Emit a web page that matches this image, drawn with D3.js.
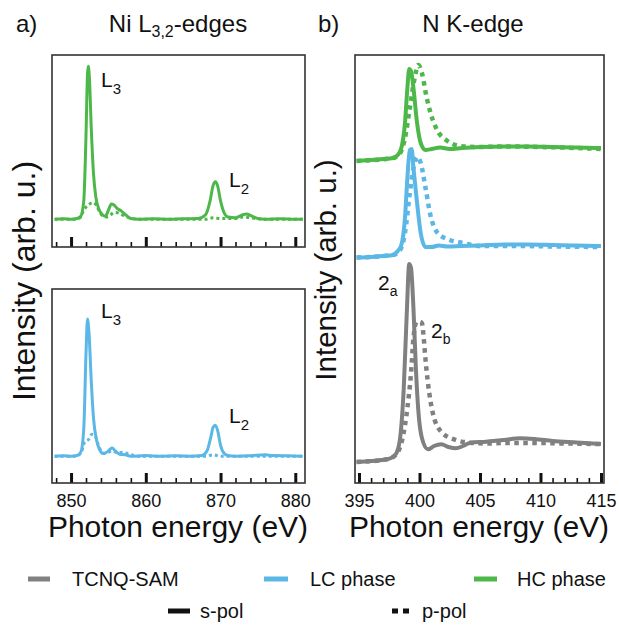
<!DOCTYPE html>
<html><head><meta charset="utf-8">
<script src="https://cdn.jsdelivr.net/npm/d3@7"></script>
<style>body{margin:0;background:#fff}svg{display:block}text{font-family:"Liberation Sans",Arial,sans-serif;fill:#111}</style>
</head><body><svg id="c" width="619" height="627"></svg>
<script>
// ---------- DATA ----------
// Panel a: Ni L3,2-edges (normalised intensity, baseline 0, L3 peak 1)
const hcNiE_s = [847.8,849,850,850.8,851.3,851.7,852.0,852.2,852.3,852.45,852.7,853.0,853.3,853.7,854.2,854.6,855.0,855.4,855.7,856.2,856.7,857.3,858,859,861,863,865,867,868,868.6,869.0,869.3,869.6,870.0,870.5,871,872,873,873.5,874,875,876,878,880,881];
const hcNiI_s = [0,0.003,0,0.005,0.02,0.12,0.55,0.95,1.0,0.93,0.6,0.3,0.15,0.07,0.03,0.02,0.06,0.10,0.095,0.07,0.055,0.03,0.005,0,0.003,0,0.003,0.005,0.03,0.12,0.22,0.245,0.22,0.12,0.04,0.015,0.01,0.03,0.035,0.025,0.005,0,0.003,0,0];
const hcNiE_p = [847.8,850,850.5,851.2,851.6,852.0,852.5,853.0,853.4,853.8,854.3,854.8,855.3,855.8,856.4,857,857.8,859,862,866,868,869,870,872,873,874,876,878,881];
const hcNiI_p = [0,0,0,0.01,0.05,0.08,0.10,0.11,0.09,0.05,0.02,0.015,0.03,0.045,0.04,0.025,0.01,0,0,0,0,0.01,0.005,0.005,0.015,0.01,0,0,0];
const lcNiE_s = [847.8,849,850,850.8,851.3,851.7,852.0,852.2,852.4,852.7,853.0,853.4,853.8,854.3,854.8,855.2,855.5,855.9,856.5,857.3,858,860,862,864,866,867.5,868.2,868.7,869.0,869.3,869.6,870.0,870.5,871,872,874,876,877,879,881];
const lcNiI_s = [0,0.003,0,0.005,0.03,0.2,0.75,1.0,0.9,0.55,0.28,0.12,0.05,0.02,0.03,0.05,0.06,0.04,0.015,0.01,0,0.005,0,0.004,0,0.005,0.04,0.14,0.21,0.226,0.19,0.08,0.02,0.005,0,0.004,0.01,0.005,0.004,0];
const lcNiE_p = [847.8,850.5,851.3,851.8,852.3,852.8,853.2,853.6,854.0,854.5,855,855.5,856.2,857,857.5,858.5,859,864,868,869,870,875,881];
const lcNiI_p = [0,0,0.02,0.10,0.12,0.16,0.15,0.09,0.04,0.02,0.03,0.04,0.025,0.03,0.02,0.005,0,0,0,0.01,0,0,0];

// Panel b: N K-edge (stacked, offsets included as plotted)
const hcNE_s = [394.8,396,397,397.8,398.2,398.5,398.8,399.0,399.15,399.3,399.5,399.8,400.1,400.5,401.0,401.7,402.5,403.5,405,407,409,411,413,415];
const hcNI_s = [3.22,3.23,3.24,3.25,3.28,3.35,3.6,3.95,4.14,4.12,3.95,3.6,3.4,3.33,3.34,3.355,3.34,3.35,3.36,3.365,3.365,3.36,3.355,3.35];
const hcNE_p = [394.8,397.8,398.4,398.8,399.2,399.6,399.9,400.2,400.6,401.1,401.6,402.2,403.3,405,407,410,413,415];
const hcNI_p = [3.22,3.25,3.3,3.45,3.75,4.05,4.18,4.1,3.85,3.63,3.5,3.43,3.37,3.36,3.365,3.36,3.35,3.34];
const lcNE_s = [394.8,396,397,397.8,398.2,398.5,398.8,399.0,399.2,399.35,399.5,399.8,400.1,400.5,401.0,401.6,402.3,403.5,405,407,409,411,413,415];
const lcNI_s = [2.255,2.26,2.27,2.28,2.32,2.38,2.65,3.05,3.33,3.34,3.15,2.8,2.5,2.36,2.36,2.375,2.365,2.37,2.375,2.385,2.385,2.38,2.375,2.37];
const lcNE_p = [394.8,397.8,398.4,398.8,399.2,399.5,399.8,400.1,400.5,400.9,401.5,402.5,403.6,405,408,411,415];
const lcNI_p = [2.255,2.28,2.33,2.5,2.9,3.15,3.26,3.2,2.95,2.68,2.5,2.43,2.4,2.37,2.37,2.365,2.36];
const samNE_s = [394.8,396,397.3,397.8,398.1,398.4,398.7,398.95,399.15,399.3,399.5,399.7,399.9,400.2,400.7,401.2,401.8,402.4,403.0,403.6,404.2,405.5,407,408.3,409.5,411,413,415];
const samNI_s = [0.21,0.22,0.237,0.26,0.30,0.45,0.95,1.7,2.19,2.15,1.75,1.15,0.73,0.45,0.337,0.37,0.387,0.36,0.347,0.37,0.403,0.413,0.43,0.447,0.44,0.42,0.405,0.39];
const samNE_p = [394.8,397.3,398.1,398.6,399.0,399.3,399.5,399.65,399.8,400.0,400.2,400.35,400.5,400.7,401.1,401.8,403.0,404.2,405.5,407,408.3,410,412,415];
const samNI_p = [0.21,0.237,0.29,0.45,0.75,1.1,1.45,1.58,1.613,1.613,1.6,1.45,1.23,1.0,0.70,0.513,0.43,0.403,0.395,0.40,0.40,0.40,0.395,0.39];

// Axes ticks
const niMajor = [850,860,870,880];
const niMinor = [848,852,854,856,858,862,864,866,868,872,874,876,878];
const nMajor = [395,400,405,410,415];
const nMinor = [396,397,398,399,401,402,403,404,406,407,408,409,411,412,413,414];

// Legend
const legendNames = ["TCNQ-SAM","LC phase","HC phase"];
const polNames = ["s-pol","p-pol"];

// ---------- STYLE ----------
const C_SAM = "#808080", C_LC = "#5bb7e6", C_HC = "#4db849";
const svg = d3.select("#c");
const zip = (a,b)=>a.map((v,i)=>[v,b[i]]);

function panel(box, xDom, yDom, series, major, minor, showLabels, lw, dash){
  const x = d3.scaleLinear().domain(xDom).range([box.x0, box.x1]);
  const y = d3.scaleLinear().domain(yDom).range([box.y1, box.y0]);
  const id = "clip"+Math.round(box.x0)+"_"+Math.round(box.y0);
  svg.append("clipPath").attr("id",id).append("rect")
    .attr("x",box.x0).attr("y",box.y0).attr("width",box.x1-box.x0).attr("height",box.y1-box.y0);
  const g = svg.append("g").attr("clip-path",`url(#${id})`);
  const line = d3.line().x(d=>x(d[0])).y(d=>y(d[1])).curve(d3.curveMonotoneX);
  series.forEach(s=>{
    g.append("path").attr("d",line(s.data)).attr("fill","none")
      .attr("stroke",s.color).attr("stroke-width",s.dotted?dash.w:lw)
      .attr("stroke-dasharray",s.dotted?dash.a:null)
      .attr("stroke-linejoin","round");
  });
  const axMin = d3.axisBottom(x).tickValues(minor).tickSize(-5).tickFormat("");
  const axMaj = d3.axisBottom(x).tickValues(major).tickSize(-10).tickPadding(11);
  if(!showLabels) axMaj.tickFormat("");
  const gm = svg.append("g").attr("transform",`translate(0,${box.y1})`).call(axMin);
  gm.select(".domain").remove();
  gm.selectAll(".tick line").attr("stroke","#111").attr("stroke-width",1.6);
  const gM = svg.append("g").attr("transform",`translate(0,${box.y1})`).call(axMaj);
  gM.select(".domain").remove();
  gM.selectAll(".tick line").attr("stroke","#111").attr("stroke-width",3);
  gM.selectAll(".tick text").attr("font-size",18).attr("fill","#222")
    .attr("font-family","Liberation Sans, Arial, sans-serif");
  svg.append("rect").attr("x",box.x0).attr("y",box.y0).attr("width",box.x1-box.x0).attr("height",box.y1-box.y0)
    .attr("fill","none").attr("stroke","#333").attr("stroke-width",1.6);
  return {x,y};
}

const boxATop = {x0:52,x1:305,y0:55,y1:247};
const boxABot = {x0:52,x1:305,y0:289,y1:483};
const boxB = {x0:355,x1:604,y0:55,y1:483};
const niDom = [847.45,881.3], nDom = [394.67,415.25];

panel(boxATop, niDom, [-0.181,1.074], [
  {data:zip(hcNiE_p,hcNiI_p),color:C_HC,dotted:true},
  {data:zip(hcNiE_s,hcNiI_s),color:C_HC}
], niMajor, niMinor, false, 3, {w:3,a:"3,3"});
panel(boxABot, niDom, [-0.195,1.219], [
  {data:zip(lcNiE_p,lcNiI_p),color:C_LC,dotted:true},
  {data:zip(lcNiE_s,lcNiI_s),color:C_LC}
], niMajor, niMinor, true, 3, {w:3,a:"3,3"});
panel(boxB, nDom, [0,4.28], [
  {data:zip(hcNE_p,hcNI_p),color:C_HC,dotted:true},
  {data:zip(hcNE_s,hcNI_s),color:C_HC},
  {data:zip(lcNE_p,lcNI_p),color:C_LC,dotted:true},
  {data:zip(lcNE_s,lcNI_s),color:C_LC},
  {data:zip(samNE_p,samNI_p),color:C_SAM,dotted:true},
  {data:zip(samNE_s,samNI_s),color:C_SAM}
], nMajor, nMinor, true, 4, {w:4.5,a:"4.5,4.5"});

// ---------- TEXT ----------
function sub(x,y,main,s,fs,sfs,dy){
  const t = svg.append("text").attr("x",x).attr("y",y).attr("font-size",fs);
  t.append("tspan").text(main);
  t.append("tspan").attr("font-size",sfs).attr("dy",dy).text(s);
  return t;
}
svg.append("text").attr("x",16).attr("y",32).attr("font-size",24).text("a)");
svg.append("text").attr("x",318).attr("y",32).attr("font-size",24).text("b)");
{
  const t = svg.append("text").attr("x",178).attr("y",32).attr("font-size",24).attr("text-anchor","middle");
  t.append("tspan").text("Ni L");
  t.append("tspan").attr("font-size",16).attr("dy",5).text("3,2");
  t.append("tspan").attr("dy",-5).text("-edges");
}
svg.append("text").attr("x",473).attr("y",32).attr("font-size",24).attr("text-anchor","middle").text("N K-edge");

sub(101,87,"L","3",21,15,7);
sub(229,187,"L","2",21,15,7);
sub(101,318,"L","3",21,15,7);
sub(229,423,"L","2",21,15,7);
sub(378,290,"2","a",21,14,6);
sub(431,338,"2","b",21,14,6);

svg.append("text").attr("transform","translate(35,281) rotate(-90)").attr("text-anchor","middle")
  .attr("font-size",32).text("Intensity (arb. u.)");
svg.append("text").attr("transform","translate(336,270) rotate(-90)").attr("text-anchor","middle")
  .attr("font-size",29.5).text("Intensity (arb. u.)");
svg.append("text").attr("x",178).attr("y",537).attr("font-size",30).attr("text-anchor","middle").text("Photon energy (eV)");
svg.append("text").attr("x",479).attr("y",537).attr("font-size",30).attr("text-anchor","middle").text("Photon energy (eV)");

// ---------- LEGEND ----------
const legX = [[28,50,72],[264,288,310],[474,497,517]];
const legC = [C_SAM,C_LC,C_HC];
legendNames.forEach((n,i)=>{
  svg.append("line").attr("x1",legX[i][0]).attr("x2",legX[i][1]).attr("y1",579).attr("y2",579)
    .attr("stroke",legC[i]).attr("stroke-width",5);
  svg.append("text").attr("x",legX[i][2]).attr("y",586).attr("font-size",20).text(n);
});
svg.append("line").attr("x1",168).attr("x2",190).attr("y1",611).attr("y2",611).attr("stroke","#111").attr("stroke-width",5);
svg.append("text").attr("x",200).attr("y",618).attr("font-size",20).text(polNames[0]);
svg.append("line").attr("x1",392).attr("x2",412).attr("y1",611).attr("y2",611).attr("stroke","#111").attr("stroke-width",5).attr("stroke-dasharray","6,5");
svg.append("text").attr("x",422).attr("y",618).attr("font-size",20).text(polNames[1]);
</script></body></html>
